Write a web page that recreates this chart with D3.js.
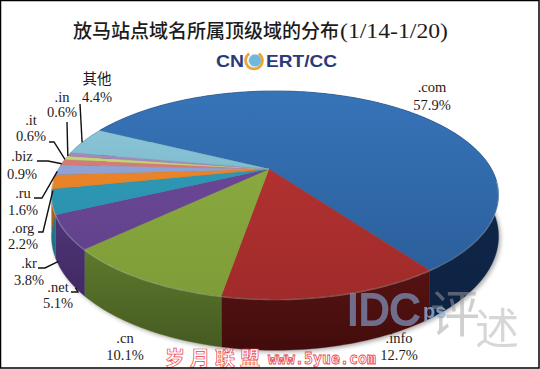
<!DOCTYPE html>
<html>
<head>
<meta charset="utf-8">
<script src="https://cdn.jsdelivr.net/npm/d3@7"></script>
<style>
  html, body { margin: 0; padding: 0; background: #fff; }
  svg { display: block; }
  text { font-family: "Liberation Serif", "Noto Sans CJK SC", serif; fill: #1c1c1c; }
</style>
</head>
<body>
<svg id="chart" width="540" height="369"></svg>
<script>
const domains = [".com", ".info", ".cn", ".net", ".kr", ".org", ".ru", ".biz", ".it", ".in", "其他"];
const shares = [57.9, 12.7, 10.1, 5.1, 3.8, 2.2, 1.6, 0.9, 0.6, 0.6, 4.4];
const shareLabels = ["57.9%", "12.7%", "10.1%", "5.1%", "3.8%", "2.2%", "1.6%", "0.9%", "0.6%", "0.6%", "4.4%"];

const topLight = ["#3674b8", "#bb3533", "#8fb043", "#6f4a9c", "#2f9fbc", "#ee8a2c", "#95a8d8", "#d97f7a", "#c9d878", "#b08cc0", "#93cadb"];
const topDark = ["#2a5c98", "#a02b2a", "#7f9c38", "#5f4088", "#2a8ba6", "#e07a20", "#8498cc", "#cf7370", "#bccb6c", "#a07fb2", "#62a6bd"];
const wallTop = ["#10294f", "#561312", "#5d7a2c", "#4f3578", "#2a8299", "#c46a18", "#7788b4", "#b06460", "#a0ae5c", "#88709a", "#5090a6"];
const wallBottom = ["#0e2343", "#420c0c", "#465a22", "#3f2a62", "#206a7e", "#a85a14", "#66769c", "#985452", "#8c984e", "#766086", "#447c90"];

// label centre x, y of the two lines, leader elbow points, and where the leader
// meets the pie (angle shift in degrees from the slice middle, drop below the rim)
const labelLayout = [
  { x: 432, y1: 88, y2: 106, leader: [] },
  { x: 399, y1: 339, y2: 356, leader: [] },
  { x: 125, y1: 339, y2: 356, leader: [] },
  { x: 58, y1: 288, y2: 304, leader: [[71, 292], [78, 292]], shift: -5, drop: 39 },
  { x: 29, y1: 264, y2: 281, leader: [[38, 268], [45, 268]], shift: -10, drop: 36 },
  { x: 23, y1: 229, y2: 245, leader: [[38, 232], [43, 232]], shift: -1, drop: 7 },
  { x: 23, y1: 194, y2: 211, leader: [[34, 198], [42, 198]], shift: -1, drop: 0 },
  { x: 22, y1: 157, y2: 175, leader: [[37, 161], [48, 161]], shift: -1, drop: 0 },
  { x: 31, y1: 121, y2: 137, leader: [[49, 142], [54, 142]], shift: -1, drop: 0 },
  { x: 62, y1: 98, y2: 113, leader: [[67, 122]], shift: -1, drop: 0 },
  { x: 97, y1: 80, y2: 98, leader: [[80, 104]], shift: -1, drop: 0 }
];

const svg = d3.select("#chart");
const defs = svg.append("defs");

defs.append("filter").attr("id", "soft")
  .attr("x", "-10%").attr("y", "-10%").attr("width", "120%").attr("height", "120%")
  .append("feGaussianBlur").attr("stdDeviation", 2);

// Plan view of the pie projected on screen with some perspective
const centerX = 275, centerY = 170;
const hubX = 269, hubY = 169;
const scaleU = 217, scaleV = 98, tilt = 0.24, height = 39;

function rimPoint(angle, h) {
  const u = Math.sin(angle), v = -Math.cos(angle);
  const w = 1 - tilt * v;
  return [centerX + scaleU * u / w, centerY + scaleV * v / w + (h || 0) / w];
}

function sampleAngles(a0, a1) {
  const n = Math.max(2, Math.ceil((a1 - a0) / 0.02));
  return d3.range(n + 1).map(i => a0 + (a1 - a0) * i / n);
}

const toRad = Math.PI / 180;
const firstAngle = -63.5;
const pie = d3.pie().sort(null)
  .startAngle(firstAngle * toRad)
  .endAngle((360 + firstAngle) * toRad);
const slices = pie(shares);
const line = d3.line();

// Shadow under the disc
const allAngles = sampleAngles(0, 2 * Math.PI);
svg.append("path")
  .attr("d", line(allAngles.map(a => rimPoint(a, height))) + "Z")
  .attr("transform", "translate(2,2)")
  .attr("fill", "#888")
  .attr("opacity", 0.7)
  .attr("filter", "url(#soft)");

// Walls
slices.forEach((d, i) => {
  const id = "wall" + i;
  const grad = defs.append("linearGradient").attr("id", id)
    .attr("x1", 0).attr("y1", 0).attr("x2", 0).attr("y2", 1);
  grad.append("stop").attr("offset", "0%").attr("stop-color", wallTop[i]);
  grad.append("stop").attr("offset", "100%").attr("stop-color", wallBottom[i]);

  const angles = sampleAngles(d.startAngle, d.endAngle);
  const pts = angles.map(a => rimPoint(a, 0))
    .concat(angles.slice().reverse().map(a => rimPoint(a, height)));
  svg.append("path")
    .attr("d", line(pts) + "Z")
    .attr("fill", `url(#${id})`)
    .attr("stroke", wallTop[i])
    .attr("stroke-width", 0.4);
});

// Top faces
slices.forEach((d, i) => {
  const id = "top" + i;
  const grad = defs.append("linearGradient").attr("id", id)
    .attr("gradientUnits", "userSpaceOnUse")
    .attr("x1", 0).attr("y1", rimPoint(Math.PI * 2, 0)[1])
    .attr("x2", 0).attr("y2", rimPoint(Math.PI, 0)[1]);
  grad.append("stop").attr("offset", "0%").attr("stop-color", topLight[i]);
  grad.append("stop").attr("offset", "100%").attr("stop-color", topDark[i]);

  const pts = [[hubX, hubY]].concat(sampleAngles(d.startAngle, d.endAngle).map(a => rimPoint(a, 0)));
  svg.append("path")
    .attr("d", line(pts) + "Z")
    .attr("fill", `url(#${id})`)
    .attr("stroke", topDark[i])
    .attr("stroke-width", 0.3);
});

// Thin highlight on the front edge
slices.forEach((d, i) => {
  const angles = sampleAngles(d.startAngle, d.endAngle)
    .filter(a => Math.cos(a) < -0.1);
  if (angles.length < 2) return;
  svg.append("path")
    .attr("d", line(angles.map(a => rimPoint(a, 0.6))))
    .attr("fill", "none")
    .attr("stroke", "#fff")
    .attr("stroke-opacity", 0.28)
    .attr("stroke-width", 1.2);
});

// Title and logo
svg.append("text")
  .attr("x", 73).attr("y", 38)
  .style("font-size", "19px")
  .style("font-weight", 500)
  .text("放马站点域名所属顶级域的分布");
svg.append("text")
  .attr("x", 340).attr("y", 38)
  .attr("textLength", 108).attr("lengthAdjust", "spacingAndGlyphs")
  .style("font-size", "20px")
  .text("(1/14-1/20)");

const logoFont = "Liberation Sans";
svg.append("text")
  .attr("x", 216).attr("y", 67)
  .attr("textLength", 28).attr("lengthAdjust", "spacingAndGlyphs")
  .style("font-family", logoFont)
  .style("font-weight", 700).style("font-size", "17px")
  .style("fill", "#2b3a78")
  .text("CN");
svg.append("text")
  .attr("x", 266).attr("y", 67)
  .attr("textLength", 71).attr("lengthAdjust", "spacingAndGlyphs")
  .style("font-family", logoFont)
  .style("font-weight", 700).style("font-size", "17px")
  .style("fill", "#2b3a78")
  .text("ERT/CC");
svg.append("circle").attr("cx", 255).attr("cy", 60.5).attr("r", 6.5)
  .attr("fill", "#6db8dc").attr("stroke", "#d9eef6").attr("stroke-width", 1);
svg.append("path")
  .attr("transform", "translate(254,60.5)")
  .attr("d", d3.arc().innerRadius(7).outerRadius(9.8).startAngle(35 * toRad).endAngle(325 * toRad)())
  .attr("fill", "#e9a43a");

// Leader lines
slices.forEach((d, i) => {
  const p = labelLayout[i];
  if (!p.leader.length) return;
  const mid = (d.startAngle + d.endAngle) / 2 + p.shift * toRad;
  svg.append("path")
    .attr("d", line(p.leader.concat([rimPoint(mid, p.drop)])))
    .attr("fill", "none")
    .attr("stroke", "#111")
    .attr("stroke-width", 1.4);
});

// Labels
domains.forEach((name, i) => {
  const p = labelLayout[i];
  svg.append("text").attr("x", p.x).attr("y", p.y1 + 4)
    .attr("text-anchor", "middle").style("font-size", "14.5px").text(name);
  svg.append("text").attr("x", p.x).attr("y", p.y2 + 4)
    .attr("text-anchor", "middle").style("font-size", "14.5px").text(shareLabels[i]);
});

// Watermarks
svg.append("text")
  .attr("x", 347).attr("y", 325)
  .attr("textLength", 73).attr("lengthAdjust", "spacingAndGlyphs")
  .style("font-family", logoFont).style("font-size", "45px")
  .style("fill", "#7f93bd").style("stroke", "#7f93bd").style("stroke-width", 2.2)
  .style("opacity", 0.72)
  .text("IDC");
svg.append("text")
  .attr("x", 423).attr("y", 318)
  .style("font-family", logoFont).style("font-size", "20px").style("font-weight", 700)
  .style("fill", "#8fb4e0").style("opacity", 0.8)
  .text("ps");
svg.append("text")
  .attr("x", 430).attr("y", 332)
  .style("font-size", "50px").style("fill", "#a0a0a0").style("opacity", 0.5)
  .text("评");
svg.append("text")
  .attr("x", 475).attr("y", 345)
  .style("font-size", "44px").style("fill", "#b0b0b0").style("opacity", 0.5)
  .text("述");

svg.append("text")
  .attr("x", 165).attr("y", 366)
  .attr("textLength", 95)
  .style("font-size", "20px").style("font-weight", 700)
  .style("fill", "#fff").style("stroke", "#e8434a").style("stroke-width", 0.7)
  .text("岁月联盟");
svg.append("text")
  .attr("x", 268).attr("y", 364)
  .attr("textLength", 108).attr("lengthAdjust", "spacingAndGlyphs")
  .style("font-family", "DejaVu Sans Mono").style("font-size", "16px").style("font-weight", 700)
  .style("fill", "#fff").style("stroke", "#e8434a").style("stroke-width", 0.8)
  .text("www.5yue.com");

// Image border
svg.append("rect")
  .attr("x", 0.5).attr("y", 0.5).attr("width", 538.5).attr("height", 367.5)
  .attr("fill", "none").attr("stroke", "#000").attr("stroke-width", 1.5);
</script>
</body>
</html>
